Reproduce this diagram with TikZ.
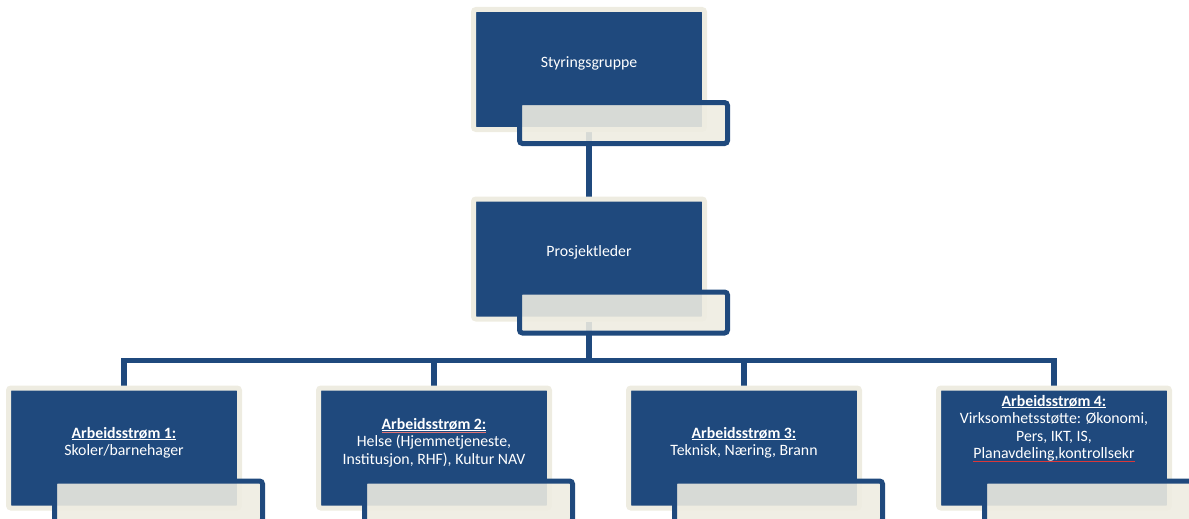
\documentclass[tikz,border=0pt]{standalone}
\usepackage{fontspec}
\setmainfont{Carlito}
\definecolor{boxblue}{HTML}{1F497D}
\definecolor{cream}{HTML}{EEECE1}
\definecolor{spellred}{HTML}{D9383A}
\pgfdeclarelayer{bg}
\pgfsetlayers{bg,main}
\newsavebox\hdrbox
\newcommand\hdr[1]{\strut\sbox\hdrbox{\bfseries #1}\rlap{\rule[-2.2pt]{\wd\hdrbox}{1pt}}\usebox\hdrbox}
\newcommand\hdrred[1]{\strut\sbox\hdrbox{\bfseries #1}\rlap{\textcolor{spellred!70!white}{\rule[-3.0pt]{\wd\hdrbox}{0.5pt}}}\rlap{\rule[-2.2pt]{\wd\hdrbox}{1pt}}\usebox\hdrbox}
\newcommand\spell[1]{\sbox\hdrbox{#1}\rlap{\textcolor{spellred}{\rule[-2.6pt]{\wd\hdrbox}{0.7pt}}}\usebox\hdrbox}
\begin{document}
\begin{tikzpicture}[x=1pt,y=-1pt,
  mainbox/.style={rectangle, draw=cream, fill=boxblue, line width=5pt, rounded corners=2.5pt,
    minimum width=231pt, minimum height=120pt, inner sep=0pt},
  tabbox/.style={rectangle, draw=boxblue, fill=cream, fill opacity=0.89, line width=5pt,
    rounded corners=3pt, minimum width=208pt, minimum height=41pt, inner sep=0pt},
  boxtext/.style={text=white, align=center, inner sep=0pt, font=\fontsize{15.8}{17.5}\selectfont},
  conn/.style={draw=boxblue, line width=5.5pt}
]
\useasboundingbox (0,0) rectangle (1189,519);
\clip (0,0) rectangle (1189,519);

% main boxes
\node[mainbox] (sg) at (589,69.5) {};
\node[mainbox] (pl) at (589,259) {};
\node[mainbox] (a1) at (124,448) {};
\node[mainbox] (a2) at (434,448) {};
\node[mainbox] (a3) at (744,448) {};
\node[mainbox] (a4) at (1054,448) {};

% tabs
\node[tabbox] (sg-tab) at (623.5,123) {};
\node[tabbox] (pl-tab) at (623.5,312.5) {};
\node[tabbox] (a1-tab) at (158.5,501.5) {};
\node[tabbox] (a2-tab) at (468.5,501.5) {};
\node[tabbox] (a3-tab) at (778.5,501.5) {};
\node[tabbox] (a4-tab) at (1088.5,501.5) {};

% texts
\node[boxtext] (sg-t) at (589,64.5) {\strut Styringsgruppe};
\node[boxtext] (pl-t) at (589,253) {\strut Prosjektleder};
\node[boxtext] (a1-t) at (124,443.5) {\hdr{Arbeidsstrøm 1:}\\\strut Skoler/barnehager};
\node[boxtext] (a2-t) at (434,443) {\hdrred{Arbeidsstrøm 2:}\\\strut Helse (Hjemmetjeneste,\\\strut Institusjon, RHF), Kultur NAV};
\node[boxtext] (a3-t) at (744,443.5) {\hdr{Arbeidsstrøm 3:}\\\strut Teknisk, Næring, Brann};
\node[boxtext] (a4-t) at (1054,429) {\hdr{Arbeidsstrøm 4:}\\\strut Virksomhetsstøtte: Økonomi,\\\strut Pers, IKT, IS,\\\strut\spell{Planavdeling,kontrollsekr}};

% connectors
\begin{pgfonlayer}{bg}
\coordinate (bus) at (589,360.5);
\draw[conn] (sg) -- (pl);
\draw[conn] (pl) -- (bus);
\draw[conn] (a1) |- (bus) -| (a4);
\draw[conn] (a2) -- (a2 |- bus);
\draw[conn] (a3) -- (a3 |- bus);
\end{pgfonlayer}
\end{tikzpicture}
\end{document}
